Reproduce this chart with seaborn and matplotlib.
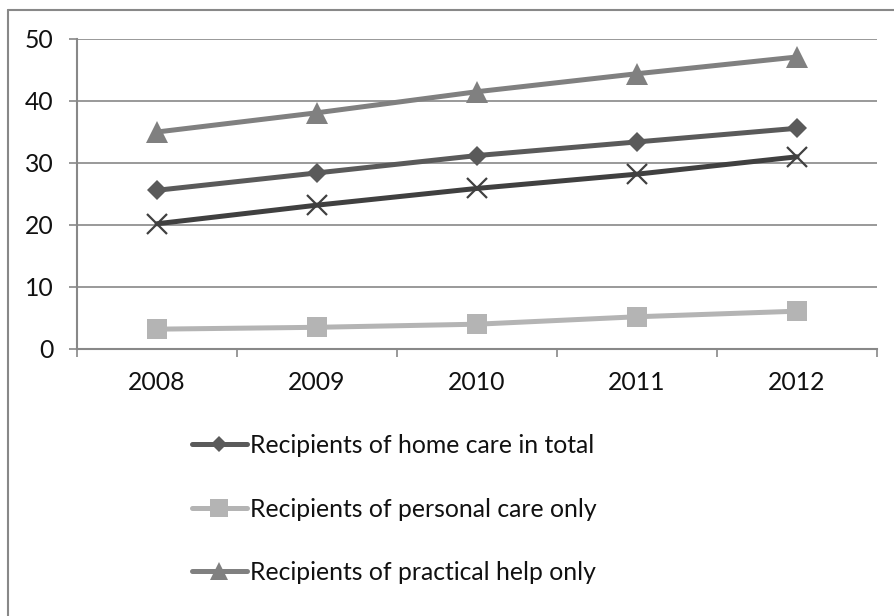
import numpy as np
import pandas as pd
import seaborn as sns
import matplotlib
matplotlib.use("Agg")
import matplotlib.pyplot as plt
from matplotlib.lines import Line2D

years = ["2008", "2009", "2010", "2011", "2012"]
home_care_total = [25.6, 28.4, 31.2, 33.4, 35.6]
personal_care_only = [3.2, 3.5, 4.0, 5.2, 6.1]
practical_help_only = [35.0, 38.1, 41.5, 44.4, 47.1]
fourth_series = [20.2, 23.2, 25.9, 28.2, 31.0]

series_names = [
    "Recipients of home care in total",
    "Recipients of personal care only",
    "Recipients of practical help only",
    "Recipients (fourth series)",
]
y_ticks = [0, 10, 20, 30, 40, 50]

sns.set_theme(style="white")
plt.rcParams["font.family"] = ["Lato", "DejaVu Sans"]

W, H = 894, 616
FS = 17.8
fig = plt.figure(figsize=(W / 100, H / 100), dpi=100)
ax = fig.add_axes([77 / W, 1 - 349 / H, 800 / W, 310 / H])

frame_col = "#888888"
text_col = "#111111"
styles = [
    dict(color="#5a5a5a", marker="D", markersize=10, lw=3.6),
    dict(color="#b4b4b4", marker="s", markersize=15, lw=3.6),
    dict(color="#808080", marker="^", markersize=15.5, lw=3.6),
    dict(color="#404040", marker="x", markersize=14, lw=3.6),
]
values = [home_care_total, personal_care_only, practical_help_only, fourth_series]

df = pd.DataFrame({
    "year": years * 4,
    "value": sum(values, []),
    "series": np.repeat(series_names, len(years)),
})

for i, (name, st) in enumerate(zip(series_names, styles)):
    sub = df[df["series"] == name]
    sns.lineplot(
        data=sub, x="year", y="value", ax=ax, color=st["color"], lw=st["lw"],
        marker=st["marker"], markersize=st["markersize"],
        markeredgecolor=st["color"],
        markeredgewidth=1.6 if st["marker"] == "x" else 0,
        label=name if i < 3 else None, legend=False, zorder=3 + i,
        solid_capstyle="round",
    )

ax.set_xlim(-0.5, 4.5)
ax.set_ylim(0, 50)
ax.set_xlabel("")
ax.set_ylabel("")

# category boundaries carry the tick marks, labels sit in the middle
ax.set_xticks(np.arange(-0.5, 5, 1))
ax.set_xticklabels([])
ax.set_xticks(np.arange(5), minor=True)
ax.set_xticklabels(years, minor=True)
ax.tick_params(axis="x", which="major", direction="out", length=6, width=1.2,
               color=frame_col, bottom=True)
ax.tick_params(axis="x", which="minor", length=0, pad=16, labelsize=FS,
               labelcolor=text_col)
ax.set_yticks(y_ticks)
ax.tick_params(axis="y", direction="out", length=6, width=1.2, color=frame_col,
               left=True, pad=11, labelsize=FS, labelcolor=text_col)

ax.grid(axis="y", color=frame_col, lw=1.2)
ax.grid(axis="x", visible=False)
ax.set_axisbelow(True)
for side in ["top", "right"]:
    ax.spines[side].set_visible(False)
for side in ["left", "bottom"]:
    ax.spines[side].set_color(frame_col)
    ax.spines[side].set_linewidth(1.5)

# outer chart frame (left and top edges)
fig.add_artist(Line2D([8 / W, 8 / W], [0, 1 - 10 / H], color=frame_col, lw=1.5))
fig.add_artist(Line2D([8 / W, 1], [1 - 10 / H, 1 - 10 / H], color=frame_col, lw=1.5))

handles, labels = ax.get_legend_handles_labels()
leg = fig.legend(
    handles[:3], labels[:3], loc="upper left",
    bbox_to_anchor=(192 / W, 1 - 434 / H), frameon=False, fontsize=FS,
    handlelength=2.22, handletextpad=0.12, labelspacing=1.64,
    borderaxespad=0, borderpad=0,
)
for h, ms in zip(leg.legend_handles, [8, 12.5, 12.5]):
    h.set_markersize(ms)
for t in leg.get_texts():
    t.set_color(text_col)

fig.savefig("out.png", dpi=100)
